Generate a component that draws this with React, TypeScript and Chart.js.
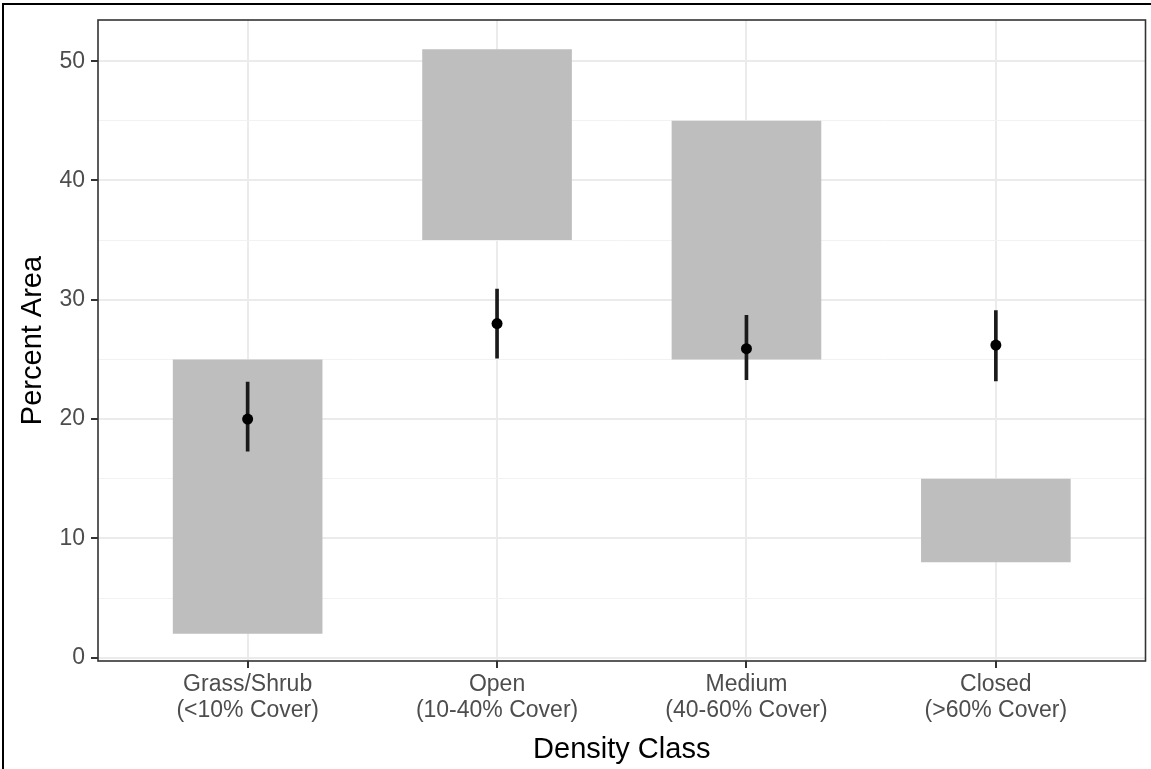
import React, { useEffect, useRef } from "react";
import { Chart, registerables } from "chart.js";

Chart.register(...registerables);

const categoryNames = ["Grass/Shrub", "Open", "Medium", "Closed"];
const coverLabels = ["(<10% Cover)", "(10-40% Cover)", "(40-60% Cover)", "(>60% Cover)"];
const categoryX = [1, 2, 3, 4];
const barLow = [2, 35, 25, 8];
const barHigh = [25, 51, 45, 15];
const pointMean = [20, 28, 25.9, 26.2];
const errLow = [17.3, 25.1, 23.3, 23.2];
const errHigh = [23.1, 30.9, 28.7, 29.1];
const yTicks = [0, 5, 10, 15, 20, 25, 30, 35, 40, 45, 50];

const FONT = "'Liberation Sans', Arial, Helvetica, sans-serif";

const panelBorder = {
  id: "panelBorder",
  afterDatasetsDraw(chart: any) {
    const { ctx, chartArea } = chart;
    ctx.save();
    ctx.strokeStyle = "#333333";
    ctx.lineWidth = 1.6;
    ctx.strokeRect(chartArea.left, chartArea.top, chartArea.right - chartArea.left, chartArea.bottom - chartArea.top);
    ctx.restore();
  },
};

export default function App() {
  const ref = useRef<HTMLCanvasElement | null>(null);
  useEffect(() => {
    if (!ref.current) return;
    const chart = new Chart(ref.current, {
      type: "bar",
      data: {
        datasets: [
          {
            type: "line",
            data: categoryX.map((x, i) => ({ x, y: pointMean[i] })),
            showLine: false,
            pointRadius: 5.5,
            pointBackgroundColor: "#000000",
            pointBorderColor: "#000000",
            pointBorderWidth: 0,
            order: 1,
          } as any,
          {
            type: "bar",
            data: categoryX.map((x, i) => ({ x, y: [errLow[i], errHigh[i]] })),
            backgroundColor: "#1a1a1a",
            barThickness: 3,
            grouped: false,
            borderSkipped: false,
            order: 2,
          } as any,
          {
            type: "bar",
            data: categoryX.map((x, i) => ({ x, y: [barLow[i], barHigh[i]] })),
            backgroundColor: "#bebebe",
            barPercentage: 0.6,
            categoryPercentage: 1,
            grouped: false,
            borderSkipped: false,
            order: 3,
          } as any,
        ],
      },
      options: {
        animation: false,
        responsive: false,
        maintainAspectRatio: false,
        layout: { padding: { left: 0, top: 20, right: 3, bottom: 0 } },
        plugins: { legend: { display: false }, tooltip: { enabled: false } },
        scales: {
          x: {
            type: "linear",
            min: 0.4,
            max: 4.6,
            offset: false,
            afterBuildTicks: (scale: any) => {
              scale.ticks = categoryX.map((v) => ({ value: v }));
            },
            afterFit: (scale: any) => {
              scale.height = 108;
            },
            ticks: {
              autoSkip: false,
              maxRotation: 0,
              padding: 4,
              color: "#4d4d4d",
              font: { family: FONT, size: 23, lineHeight: 1.13 },
              callback: (value: any) => {
                const i = categoryX.indexOf(Number(value));
                return i >= 0 ? [categoryNames[i], coverLabels[i]] : "";
              },
            },
            grid: {
              offset: false,
              color: "#ebebeb",
              lineWidth: 2,
              tickColor: "#333333",
              tickLength: 7,
              tickWidth: 2,
            },
            border: { display: false },
            title: {
              display: true,
              text: "Density Class",
              color: "#000000",
              font: { family: FONT, size: 29 },
              padding: { top: 0, bottom: 2 },
            },
          },
          y: {
            type: "linear",
            min: -0.28,
            max: 53.45,
            afterBuildTicks: (scale: any) => {
              scale.ticks = yTicks.map((v) => ({ value: v }));
            },
            afterFit: (scale: any) => {
              scale.width = 98;
            },
            ticks: {
              padding: 6,
              color: "#4d4d4d",
              font: { family: FONT, size: 23 },
              callback: (value: any) => (Number(value) % 10 === 0 ? String(value) : ""),
            },
            grid: {
              color: (ctx: any) => (ctx.tick && ctx.tick.value % 10 === 0 ? "#ebebeb" : "#f2f2f2"),
              lineWidth: (ctx: any) => (ctx.tick && ctx.tick.value % 10 === 0 ? 2 : 1),
              tickColor: (ctx: any) => (ctx.tick && ctx.tick.value % 10 === 0 ? "#333333" : "rgba(0,0,0,0)"),
              tickLength: 7,
              tickWidth: 2,
            },
            border: { display: false },
            title: {
              display: true,
              text: "Percent Area",
              color: "#000000",
              font: { family: FONT, size: 29 },
              padding: { top: 16, bottom: 0 },
            },
          },
        },
      },
      plugins: [panelBorder],
    });
    return () => chart.destroy();
  }, []);

  return (
    <div style={{ position: "fixed", left: 0, top: 0, width: 1151, height: 769, background: "#ffffff" }}>
      <canvas ref={ref} width={1151} height={769} style={{ display: "block" }} />
      <div
        style={{
          position: "absolute",
          left: 2,
          top: 3,
          right: 0,
          bottom: 0,
          borderLeft: "2px solid #000",
          borderTop: "2px solid #000",
          pointerEvents: "none",
        }}
      />
    </div>
  );
}
